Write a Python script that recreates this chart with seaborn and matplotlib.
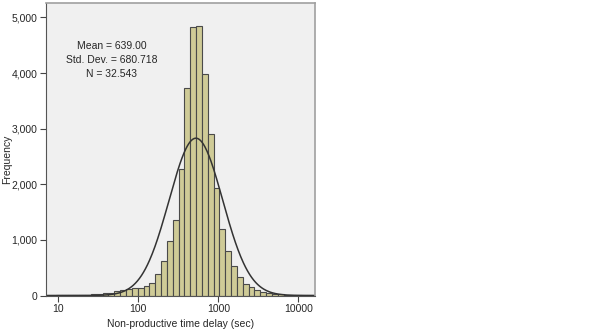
import numpy as np
import pandas as pd
import matplotlib
matplotlib.use("Agg")
import matplotlib.pyplot as plt
import seaborn as sns

# histogram of non-productive time delay, drawn in log10(sec) space
bin_start = 0.970      # left edge of first bin, log10(sec)
bin_width = 0.073      # bin width, log10 units
counts = [3, 5, 6, 8, 10, 15, 20, 27, 36, 50, 75, 99, 117, 130, 140, 176,
          230, 387, 620, 985, 1358, 2270, 3737, 4824, 4847, 3984, 2899, 1928,
          1201, 806, 531, 327, 212, 147, 94, 58, 40, 28, 20, 13, 9, 6, 4, 2]

# normal curve (fitted in log space)
n_total = 32543
curve_mean = 2.72
curve_sd = 0.335

xtick_vals = [10, 100, 1000, 10000]
ytick_vals = [0, 1000, 2000, 3000, 4000, 5000]
stats_text = "Mean = 639.00\nStd. Dev. = 680.718\nN = 32.543"

sns.set_style("ticks")
plt.rcParams["font.family"] = ["Liberation Sans", "DejaVu Sans"]

nbins = len(counts)
edges = bin_start + bin_width * np.arange(nbins + 1)
centers = (edges[:-1] + edges[1:]) / 2
df = pd.DataFrame({"logx": centers, "count": counts})

fig = plt.figure(figsize=(6.02, 3.31), dpi=100)
ax = fig.add_axes([46 / 602, 35.5 / 331, 269 / 602, 292.5 / 331])
ax.set_facecolor("#F0F0F0")

sns.histplot(data=df, x="logx", weights="count", bins=nbins,
             binrange=(edges[0], edges[-1]), ax=ax,
             color="#CFCB97", alpha=1, edgecolor="#4A4A4A", linewidth=0.8)

xs = np.linspace(0.84, 4.21, 400)
ys = n_total * bin_width * np.exp(-(xs - curve_mean) ** 2 / (2 * curve_sd ** 2)) / (curve_sd * np.sqrt(2 * np.pi))
sns.lineplot(x=xs, y=ys, ax=ax, color="#333333", linewidth=1.1)

ax.set_xlim(0.846, 4.209)
ax.set_ylim(0, 5260)
ax.set_xticks(np.log10(xtick_vals))
ax.set_xticklabels([str(v) for v in xtick_vals], fontsize=7.5)
ax.set_yticks(ytick_vals)
ax.set_yticklabels([f"{v:,}" for v in ytick_vals], fontsize=7.5)
ax.tick_params(length=4, width=0.8, color="#444444", pad=2)
ax.set_xlabel("Non-productive time delay (sec)", fontsize=7.5, labelpad=4)
ax.set_ylabel("Frequency", fontsize=7.5, labelpad=0)
ax.yaxis.label.set_y(0.465)

for s in ["left", "bottom"]:
    ax.spines[s].set_color("#555555")
    ax.spines[s].set_linewidth(0.8)
for s in ["top", "right"]:
    ax.spines[s].set_visible(True)
    ax.spines[s].set_color("#A0A0A0")
    ax.spines[s].set_linewidth(1.2)

ax.text(0.245, 0.805, stats_text, transform=ax.transAxes, ha="center",
        va="center", fontsize=7.5, linespacing=1.45)

fig.savefig("out.png", dpi=100)
